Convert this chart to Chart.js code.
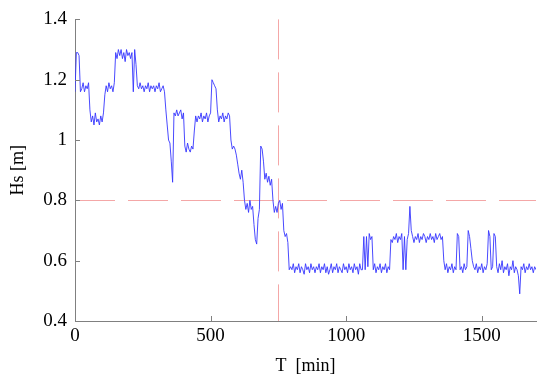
<!DOCTYPE html>
<html>
<head>
<meta charset="utf-8">
<script src="https://cdn.jsdelivr.net/npm/chart.js@4.4.1/dist/chart.umd.min.js"></script>
<style>
  html,body{margin:0;padding:0;background:#fff;}
  #wrap{width:550px;height:382px;}
</style>
</head>
<body>
<div id="wrap"><canvas id="cnv"></canvas></div>
<script>
// sampling clock (minutes)
var startMin = 0, stepMin = 5;

// Hs [m], every 5 min
var hsHigh = [
  1.16,1.29,1.29,1.28,1.16,1.17,1.19,1.16,1.18,1.17,1.19,1.10,1.06,1.08,1.05,1.09,1.06,1.07,1.05,1.08,
  1.06,1.09,1.15,1.18,1.16,1.19,1.17,1.18,1.16,1.19,1.29,1.27,1.30,1.28,1.30,1.27,1.29,1.26,1.30,1.28,
  1.29,1.27,1.29,1.16,1.30,1.25,1.18,1.17,1.19,1.17,1.18,1.16,1.18,1.17,1.19,1.16,1.18,1.17,1.18,1.16,
  1.18,1.17,1.19,1.16,1.17,1.18,1.16,1.10,1.05,1.00,0.99,0.93,0.86,1.09,1.08,1.10,1.08,1.09,1.10,1.07,
  1.09,0.98,0.96,0.99,0.97,0.96,0.98,0.97,1.03,1.08,1.06,1.08,1.07,1.09,1.06,1.08,1.07,1.09,1.06,1.08,
  1.09,1.20,1.19,1.18,1.17,1.10,1.06,1.08,1.07,1.09,1.06,1.08,1.07,1.09,1.08,1.00,0.97,0.98,0.97,0.95
];
var hsDrop = [
  0.92,0.89,0.87,0.90,0.86,0.80,0.77,0.79,0.76,0.80,0.77,0.78,0.72,0.67,0.655,0.74,0.77,0.98,0.97,0.93,
  0.87,0.89,0.86,0.88,0.85,0.87,0.80,0.76,0.78,0.76,0.79,0.80,0.77,0.79,0.70,0.68,0.69,0.66,0.57,0.58
];
var hsLow = [
  0.57,0.59,0.56,0.58,0.57,0.59,0.56,0.58,0.57,0.555,0.59,0.57,0.58,0.56,0.59,0.57,0.58,0.56,0.58,0.57,
  0.59,0.56,0.58,0.57,0.59,0.56,0.58,0.555,0.57,0.59,0.56,0.58,0.57,0.59,0.56,0.58,0.57,0.56,0.59,0.57,
  0.58,0.56,0.59,0.57,0.58,0.56,0.59,0.57,0.58,0.555,0.59,0.57,0.57,0.68,0.57,0.68,0.58,0.69,0.67,0.68,
  0.57,0.59,0.56,0.58,0.57,0.59,0.56,0.58,0.57,0.59,0.56,0.58,0.57,0.67,0.66,0.68,0.67,0.69,0.66,0.68,
  0.67,0.69,0.57,0.68,0.57,0.67,0.69,0.78,0.70,0.68,0.66,0.68,0.67,0.69,0.66,0.68,0.67,0.69,0.68,0.66,
  0.68,0.67,0.69,0.67,0.68,0.66,0.69,0.67,0.68,0.69,0.67,0.68,0.60,0.57,0.59,0.56,0.58,0.57,0.59,0.56,
  0.58,0.57,0.69,0.68,0.57,0.58,0.56,0.59,0.57,0.58,0.70,0.68,0.64,0.60,0.58,0.57,0.59,0.56,0.58,0.57,
  0.59,0.56,0.58,0.57,0.59,0.70,0.68,0.57,0.58,0.69,0.68,0.58,0.56,0.59,0.57,0.60,0.56,0.58,0.57,0.59,
  0.55,0.58,0.57,0.60,0.56,0.58,0.57,0.55,0.49,0.58,0.57,0.59,0.56,0.58,0.57,0.59,0.57,0.58,0.56,0.58,
  0.57
];

var xTicks = [0, 500, 1000, 1500];
var yTicks = [0.4, 0.6, 0.8, 1, 1.2, 1.4];
var refHs = 0.8;     // horizontal dashed line
var refT = 750;      // vertical dashed line

var hs = hsHigh.concat(hsDrop, hsLow);
var pts = hs.map(function(v, i){ return {x: startMin + i*stepMin, y: v}; });

var serif = "Liberation Serif";

var extras = {
  id: 'extras',
  beforeDatasetsDraw: function(chart){
    var c = chart.ctx, a = chart.chartArea;
    var xs = chart.scales.x, ys = chart.scales.y;
    c.save();
    c.strokeStyle = 'rgba(238,120,120,0.65)';
    c.lineWidth = 1;
    c.setLineDash([40, 13]);
    var py = Math.round(ys.getPixelForValue(refHs)) + 0.5;
    c.beginPath(); c.moveTo(a.left, py); c.lineTo(a.right, py); c.stroke();
    var px = Math.round(xs.getPixelForValue(refT)) + 0.5;
    c.beginPath(); c.moveTo(px, a.top); c.lineTo(px, a.bottom); c.stroke();
    c.restore();
  },
  afterDatasetsDraw: function(chart){
    // inward tick marks
    var c = chart.ctx, a = chart.chartArea;
    var xs = chart.scales.x, ys = chart.scales.y;
    c.save();
    c.strokeStyle = '#808080';
    c.lineWidth = 1;
    c.beginPath();
    xTicks.forEach(function(t){
      var px = Math.round(xs.getPixelForValue(t)) + 0.5;
      c.moveTo(px, a.bottom); c.lineTo(px, a.bottom - 5);
    });
    yTicks.forEach(function(t){
      var py = Math.round(ys.getPixelForValue(t)) + 0.5;
      c.moveTo(a.left, py); c.lineTo(a.left + 5, py);
    });
    c.stroke();
    c.restore();
  }
};

new Chart(document.getElementById('cnv'), {
  type: 'line',
  data: {
    datasets: [{
      data: pts,
      borderColor: '#3535ff',
      borderWidth: 0.9,
      pointRadius: 0,
      tension: 0,
      fill: false
    }]
  },
  options: {
    responsive: true,
    maintainAspectRatio: false,
    animation: false,
    layout: {padding: {top: 16, right: 14, left: 0, bottom: 0}},
    plugins: {legend: {display: false}, tooltip: {enabled: false}},
    scales: {
      x: {
        type: 'linear',
        min: 0, max: 1700,
        afterBuildTicks: function(s){ s.ticks = xTicks.map(function(v){ return {value: v}; }); },
        afterFit: function(s){ s.height = 61; },
        grid: {drawOnChartArea: false, drawTicks: false},
        border: {display: true, color: '#808080', width: 1},
        ticks: {padding: 4, color: '#000', maxRotation: 0, font: {family: serif, size: 19},
                callback: function(v){ return String(v); }},
        title: {display: true, text: 'T  [min]', color: '#000', padding: {top: 0, bottom: 5}, font: {family: serif, size: 18}}
      },
      y: {
        min: 0.4, max: 1.4,
        afterBuildTicks: function(s){ s.ticks = yTicks.map(function(v){ return {value: v}; }); },
        afterFit: function(s){ s.width = 75; },
        grid: {drawOnChartArea: false, drawTicks: false},
        border: {display: true, color: '#808080', width: 1},
        ticks: {padding: 8, color: '#000', font: {family: serif, size: 19},
                callback: function(v){ return String(v); }},
        title: {display: true, text: 'Hs [m]', color: '#000', padding: {top: 7, bottom: 0}, font: {family: serif, size: 18}}
      }
    }
  },
  plugins: [extras]
});
</script>
</body>
</html>
